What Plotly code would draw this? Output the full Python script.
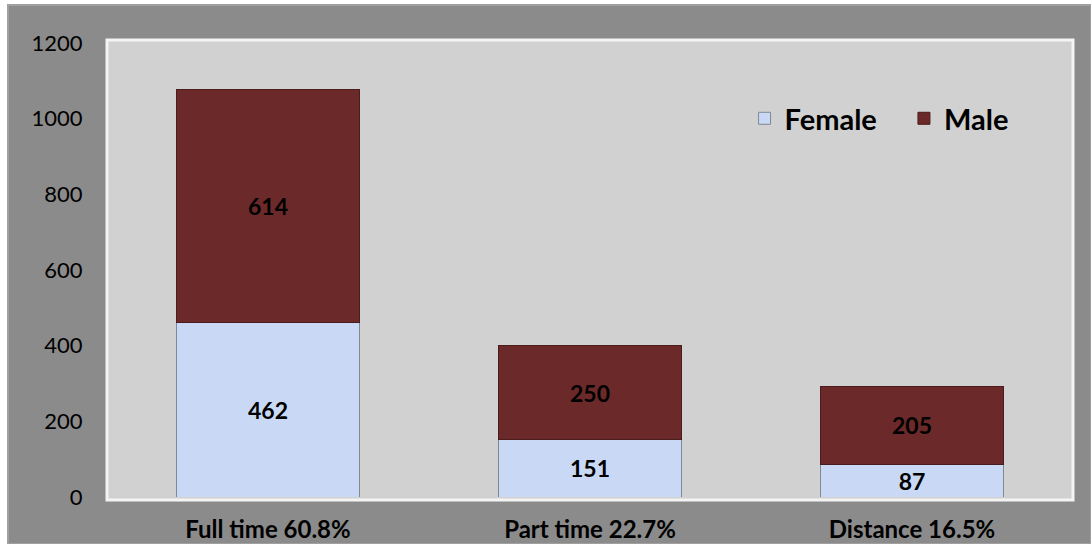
import plotly.graph_objects as go

categories = ["Full time 60.8%", "Part time 22.7%", "Distance 16.5%"]
female = [462, 151, 87]
male = [614, 250, 205]
y_ticks = [0, 200, 400, 600, 800, 1000, 1200]

FONT = "Lato, 'Open Sans', sans-serif"

L, R, T, B = 107, 18, 43, 47
W, H = 1091, 544
PW, PH = W - L - R, H - T - B

fig = go.Figure()
fig.add_trace(go.Bar(
    x=categories, y=female, name="Female", legend="legend",
    marker=dict(color="#c9d9f5", line=dict(color="#7f8896", width=1)),
    text=[str(v) for v in female], textposition="inside", insidetextanchor="middle",
    textangle=0,
    textfont=dict(family=FONT, size=23, color="black", weight="bold"),
    constraintext="none",
))
fig.add_trace(go.Bar(
    x=categories, y=male, name="Male", legend="legend2",
    marker=dict(color="#6b2a29", line=dict(color="#4a1c1b", width=1)),
    text=[str(v) for v in male], textposition="inside", insidetextanchor="middle",
    textangle=0,
    textfont=dict(family=FONT, size=23, color="black", weight="bold"),
    constraintext="none",
))

legend_common = dict(
    orientation="h", y=0.89, xanchor="left", yanchor="top",
    bgcolor="rgba(0,0,0,0)",
    font=dict(family=FONT, size=29, color="black", weight="bold"),
    itemwidth=30,
)

fig.update_layout(
    barmode="stack",
    bargap=0.43,
    width=W, height=H,
    margin=dict(l=L, r=R, t=T, b=B),
    paper_bgcolor="#ffffff",
    plot_bgcolor="#d1d1d1",
    font=dict(family=FONT, color="black"),
    showlegend=True,
    legend=dict(x=0.660, **legend_common),
    legend2=dict(x=0.825, **legend_common),
    shapes=[
        dict(type="rect", xref="paper", yref="paper", layer="below",
             x0=-(L - 8) / PW, x1=1 + R / PW, y0=-B / PH, y1=1 + (T - 5) / PH,
             fillcolor="#8b8b8b", line=dict(color="#a0a0a0", width=2)),
        dict(type="rect", xref="paper", yref="paper", layer="below",
             x0=0, x1=1, y0=-3 / PH, y1=1 + 3 / PH,
             fillcolor="#d1d1d1", line=dict(color="#f4f4f4", width=3)),
    ],
)
fig.update_xaxes(
    automargin=False,
    showgrid=False, showline=False, zeroline=False,
    ticks="outside", ticklen=11, tickcolor="rgba(0,0,0,0)",
    tickfont=dict(family=FONT, size=24, color="black", weight="bold"),
)
fig.update_yaxes(
    automargin=False,
    range=[0, 1200], tickvals=y_ticks, ticktext=[str(v) for v in y_ticks],
    showgrid=False, showline=False, zeroline=False,
    ticks="outside", ticklen=19, tickcolor="rgba(0,0,0,0)",
    tickfont=dict(family=FONT, size=22, color="black"),
)

fig.write_html("out.html", config={"displayModeBar": False},
               post_script="document.body.style.margin='0';")
